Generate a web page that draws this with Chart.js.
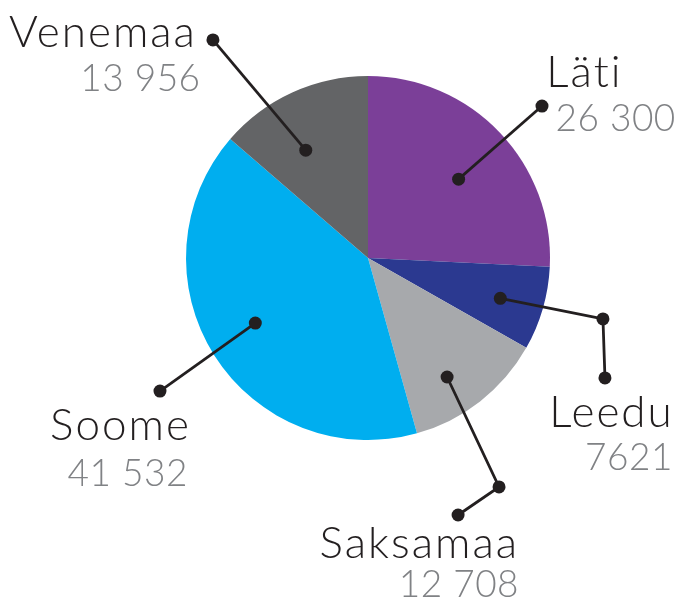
<!DOCTYPE html>
<html>
<head>
<meta charset="utf-8">
<script src="https://cdn.jsdelivr.net/npm/chart.js@4"></script>
<style>
  html, body { margin: 0; padding: 0; background: #fff; }
  #wrap { width: 691px; height: 600px; }
</style>
</head>
<body>
<div id="wrap"><canvas id="pieChart" width="691" height="600"></canvas></div>
<script>
'use strict';
// data
var labels = ['Läti', 'Leedu', 'Saksamaa', 'Soome', 'Venemaa'];
var values = [26300, 7621, 12708, 41532, 13956];
var colors = ['#7b3f98', '#2b3990', '#a7a9ac', '#00aeef', '#636466'];

// leader lines: inner dot at a fraction of the radius (turned a few degrees off the slice middle),
// then the other points in radius units from the centre
var leaders = [
  { inner: 0.66, turn: 2.6, pts: [[0.956, -0.835]], name: [0.98, -0.94, 'left'], num: [1.03, -0.70, 'left'] },
  { inner: 0.76, turn: 0.8, pts: [[1.291, 0.335], [1.302, 0.659]], name: [1.68, 0.93, 'right'], num: [1.675, 1.165, 'right'] },
  { inner: 0.785, turn: 4.4, pts: [[0.720, 1.258], [0.495, 1.412]], name: [0.83, 1.65, 'right'], num: [0.83, 1.865, 'right'] },
  { inner: 0.715, turn: 2.4, pts: [[-1.143, 0.731]], name: [-1.36, 1.0, 'center'], num: [-1.32, 1.25, 'center'] },
  { inner: 0.684, turn: -5.4, pts: [[-0.852, -1.198]], name: [-0.94, -1.16, 'right'], num: [-0.92, -0.915, 'right'] }
];

var ink = '#231f20';
var numGray = '#808285';
var fontFam = 'Lato, "Open Sans", sans-serif';

function fmt(v) {
  var s = String(v);
  if (v < 10000) return s;
  return s.slice(0, s.length - 3) + ' ' + s.slice(-3);
}

function dot(ctx, x, y) {
  ctx.beginPath();
  ctx.arc(x, y, 6.5, 0, Math.PI * 2);
  ctx.fill();
}

var leaderPlugin = {
  id: 'leaders',
  afterDraw: function (chart) {
    var ctx = chart.ctx;
    var arcs = chart.getDatasetMeta(0).data;
    ctx.save();
    arcs.forEach(function (arc, i) {
      var p = arc.getProps(['x', 'y', 'startAngle', 'endAngle', 'outerRadius'], true);
      var R = p.outerRadius;
      var L = leaders[i];
      var mid = (p.startAngle + p.endAngle) / 2 + L.turn * Math.PI / 180;
      var pts = [[p.x + Math.cos(mid) * R * L.inner, p.y + Math.sin(mid) * R * L.inner]];
      L.pts.forEach(function (q) { pts.push([p.x + q[0] * R, p.y + q[1] * R]); });

      ctx.strokeStyle = ink;
      ctx.fillStyle = ink;
      ctx.lineWidth = 2.8;
      ctx.beginPath();
      ctx.moveTo(pts[0][0], pts[0][1]);
      for (var k = 1; k < pts.length; k++) ctx.lineTo(pts[k][0], pts[k][1]);
      ctx.stroke();
      pts.forEach(function (q) { dot(ctx, q[0], q[1]); });

      ctx.textBaseline = 'alphabetic';
      ctx.letterSpacing = '2px';
      ctx.font = '300 44px ' + fontFam;
      ctx.fillStyle = ink;
      ctx.textAlign = L.name[2];
      ctx.fillText(labels[i], p.x + L.name[0] * R, p.y + L.name[1] * R);

      ctx.letterSpacing = '0.5px';
      ctx.font = '300 37px ' + fontFam;
      ctx.fillStyle = numGray;
      ctx.textAlign = L.num[2];
      ctx.fillText(fmt(values[i]), p.x + L.num[0] * R, p.y + L.num[1] * R);
    });
    ctx.restore();
  }
};

function makeChart() {
  var ctx = document.getElementById('pieChart');
  new Chart(ctx, {
    type: 'pie',
    data: {
      labels: labels,
      datasets: [{
        data: values,
        backgroundColor: colors,
        borderWidth: 0
      }]
    },
    options: {
      responsive: false,
      animation: false,
      layout: { padding: { left: 186, right: 141, top: 76, bottom: 160 } },
      plugins: {
        legend: { display: false },
        tooltip: { enabled: false }
      }
    },
    plugins: [leaderPlugin]
  });
}
makeChart();
</script>
</body>
</html>
